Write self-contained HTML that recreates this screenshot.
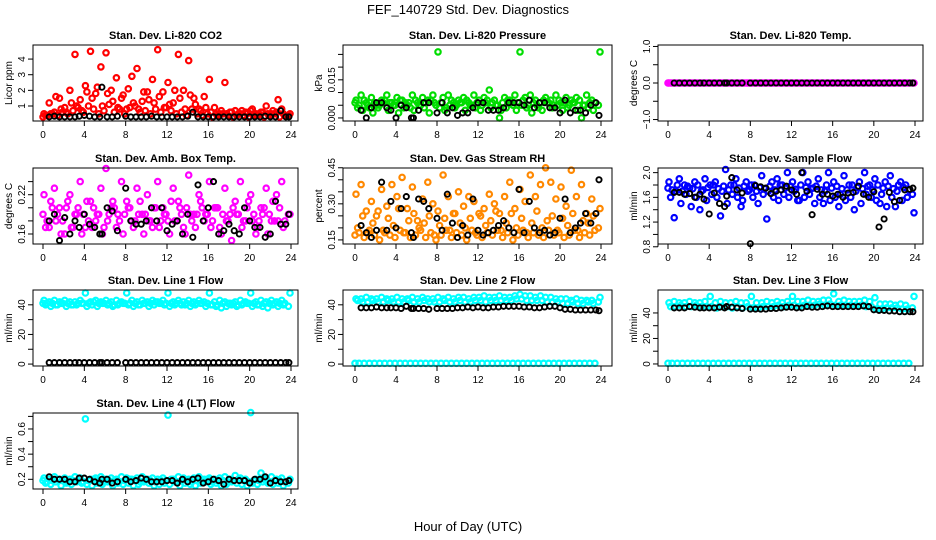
<!DOCTYPE html>
<html><head><meta charset="utf-8"><style>
html,body{margin:0;padding:0;background:#fff;}
svg{display:block;font-family:"Liberation Sans",Arial,sans-serif;}
</style></head><body>
<svg id="chart" width="936" height="540" viewBox="0 0 936 540">
<text x="468" y="14" text-anchor="middle" font-size="13">FEF_140729  Std. Dev. Diagnostics</text>
<text x="468" y="531" text-anchor="middle" font-size="13">Hour of Day (UTC)</text>
</svg>
<script>
const hoursA=[0.1,0.6,1.1,1.6,2.1,2.6,3.1,3.6,4.1,4.6,5.1,5.6,6.1,6.6,7.1,7.6,8.1,8.6,9.1,9.6,10.1,10.6,11.1,11.6,12.1,12.6,13.1,13.6,14.1,14.6,15.1,15.6,16.1,16.6,17.1,17.6,18.1,18.6,19.1,19.6,20.1,20.6,21.1,21.6,22.1,22.6,23.1,23.9];
const hoursB=[0.25,0.75,1.25,1.75,2.25,2.75,3.25,3.75,4.25,4.75,5.25,5.75,6.25,6.75,7.25,7.75,8.25,8.75,9.25,9.75,10.25,10.75,11.25,11.75,12.25,12.75,13.25,13.75,14.25,14.75,15.25,15.75,16.25,16.75,17.25,17.75,18.25,18.75,19.25,19.75,20.25,20.75,21.25,21.75,22.25,22.75,23.25,23.75];
const hoursC=[0.0,0.4,0.9,1.4,1.9,2.4,2.9,3.4,3.9,4.4,4.9,5.4,5.9,6.4,6.9,7.4,7.9,8.4,8.9,9.4,9.9,10.4,10.9,11.4,11.9,12.4,12.9,13.4,13.9,14.4,14.9,15.4,15.9,16.4,16.9,17.4,17.9,18.4,18.9,19.4,19.9,20.4,20.9,21.4,21.9,22.4,22.9,23.4];
const hoursK=[0.6,1.1,1.6,2.1,2.6,3.1,3.5,4.0,4.5,5.0,5.5,5.7,6.2,6.7,7.2,8.0,8.5,9.0,9.5,10.0,10.5,11.0,11.5,12.0,12.5,13.0,13.5,14.0,14.5,15.0,15.5,16.0,16.5,17.0,17.5,18.0,18.5,19.0,19.5,20.0,20.5,21.0,21.5,22.0,22.5,23.0,23.5,23.8];
const xTicks=[0,4,8,12,16,20,24];

const co2A=[0.5,1.2,0.6,1.5,0.9,2.0,4.3,1.4,2.3,4.5,1.8,3.5,4.4,2.0,2.8,1.5,0.8,2.9,3.4,1.3,1.9,2.7,4.6,1.9,2.5,1.2,4.3,2.0,3.9,1.5,0.8,1.6,2.7,0.9,0.5,2.5,0.6,0.7,0.5,0.6,0.7,0.5,0.6,1.0,0.5,0.6,0.8,0.5];
const co2B=[0.4,0.5,1.6,0.8,0.6,1.2,1.0,0.7,1.9,1.5,2.2,1.0,1.8,1.3,0.9,1.7,2.1,1.2,0.8,1.9,1.4,1.2,1.6,0.9,1.1,2.0,1.5,0.8,1.7,1.1,0.7,0.9,0.6,0.5,0.7,0.5,0.6,0.4,0.7,0.5,0.8,0.4,0.6,0.5,0.7,1.4,0.5,0.4];
const co2C=[0.3,0.4,0.5,0.4,0.6,0.5,0.7,0.9,0.6,1.0,0.8,0.5,0.7,1.1,0.6,0.8,0.5,0.9,1.0,0.6,0.7,0.5,0.8,0.6,0.9,0.7,0.5,0.6,0.4,0.8,0.5,0.4,0.5,0.3,0.4,0.5,0.4,0.3,0.5,0.4,0.3,0.4,0.5,0.3,0.4,0.5,0.3,0.4];
const co2K=[0.3,0.35,0.3,0.3,0.3,0.3,0.35,0.4,0.35,0.3,0.3,2.2,0.3,0.3,0.35,0.35,0.3,0.3,0.3,0.3,0.35,0.3,0.3,0.3,0.3,0.3,0.3,0.35,0.6,0.3,0.3,0.3,0.3,0.3,0.3,0.3,0.3,0.3,0.3,0.3,0.3,0.3,0.35,0.3,0.3,0.7,0.3,0.3];

const presA=[0.007,0.009,0.006,0.008,0.005,0.007,0.009,0.006,0.008,0.007,0.005,0.009,0.006,0.008,0.007,0.009,0.026,0.008,0.009,0.006,0.007,0.008,0.006,0.009,0.007,0.008,0.011,0.007,0.000,0.008,0.007,0.009,0.026,0.008,0.009,0.007,0.006,0.008,0.007,0.009,0.006,0.008,0.007,0.008,0.000,0.009,0.007,0.026];
const presB=[0.004,0.003,0.005,0.002,0.004,0.006,0.003,0.005,0.002,0.004,0.006,0.003,0.005,0.004,0.002,0.006,0.004,0.003,0.005,0.004,0.006,0.003,0.005,0.004,0.003,0.006,0.004,0.005,0.003,0.004,0.006,0.003,0.005,0.004,0.002,0.005,0.003,0.006,0.004,0.005,0.003,0.004,0.006,0.003,0.005,0.004,0.003,0.005];
const presC=[0.006,0.005,0.007,0.004,0.006,0.005,0.007,0.006,0.005,0.007,0.006,0.004,0.007,0.005,0.006,0.007,0.005,0.006,0.004,0.007,0.005,0.006,0.007,0.005,0.006,0.005,0.007,0.006,0.005,0.006,0.007,0.005,0.006,0.007,0.005,0.006,0.004,0.007,0.006,0.005,0.007,0.006,0.005,0.006,0.007,0.005,0.006,0.006];
const presK=[0.003,0.000,0.004,0.006,0.006,0.004,0.003,0.000,0.005,0.004,0.000,0.000,0.003,0.006,0.006,0.002,0.006,0.002,0.004,0.001,0.002,0.002,0.004,0.006,0.006,0.003,0.003,0.003,0.004,0.006,0.006,0.006,0.005,0.007,0.004,0.006,0.006,0.004,0.004,0.002,0.007,0.002,0.003,0.003,0.002,0.005,0.006,0.001];

const tempA=[0,0,0,0,0,0,0,0,0,0,0,0,0,0,0,0,0,0,0,0,0,0,0,0,0,0,0,0,0,0,0,0,0,0,0,0,0,0,0,0,0,0,0,0,0,0,0,0];
const tempB=[0,0,0,0,0,0,0,0,0,0,0,0,0,0,0,0,0,0,0,0,0,0,0,0,0,0,0,0,0,0,0,0,0,0,0,0,0,0,0,0,0,0,0,0,0,0,0,0];
const tempC=[0,0,0,0,0,0,0,0,0,0,0,0,0,0,0,0,0,0,0,0,0,0,0,0,0,0,0,0,0,0,0,0,0,0,0,0,0,0,0,0,0,0,0,0,0,0,0,0];
const tempK=[0,0,0,0,0,0,0,0,0,0,0,0,0,0,0,0,0,0,0,0,0,0,0,0,0,0,0,0,0,0,0,0,0,0,0,0,0,0,0,0,0,0,0,0,0,0,0,0];

const boxA=[0.22,0.17,0.23,0.20,0.16,0.22,0.19,0.24,0.17,0.21,0.18,0.23,0.26,0.20,0.17,0.24,0.21,0.18,0.23,0.19,0.22,0.17,0.24,0.20,0.18,0.23,0.21,0.17,0.25,0.19,0.22,0.18,0.24,0.20,0.17,0.23,0.19,0.21,0.24,0.18,0.22,0.16,0.20,0.23,0.18,0.22,0.24,0.19];
const boxB=[0.17,0.21,0.18,0.16,0.20,0.17,0.19,0.16,0.21,0.17,0.19,0.16,0.18,0.21,0.19,0.16,0.20,0.17,0.19,0.16,0.18,0.20,0.17,0.19,0.16,0.18,0.20,0.16,0.19,0.17,0.21,0.19,0.17,0.20,0.16,0.18,0.15,0.19,0.17,0.20,0.18,0.17,0.19,0.16,0.21,0.18,0.17,0.19];
const boxC=[0.19,0.18,0.20,0.19,0.18,0.21,0.17,0.20,0.19,0.18,0.20,0.19,0.17,0.19,0.20,0.18,0.19,0.20,0.18,0.21,0.19,0.18,0.20,0.18,0.19,0.21,0.18,0.19,0.20,0.18,0.19,0.20,0.19,0.18,0.20,0.19,0.18,0.20,0.19,0.18,0.21,0.19,0.18,0.20,0.19,0.18,0.20,0.18];
const boxK=[0.18,0.19,0.15,0.185,0.16,0.18,0.17,0.19,0.175,0.17,0.16,0.16,0.20,0.195,0.165,0.23,0.18,0.175,0.175,0.18,0.20,0.18,0.20,0.165,0.175,0.18,0.16,0.19,0.155,0.235,0.18,0.20,0.24,0.16,0.165,0.175,0.165,0.16,0.20,0.18,0.17,0.17,0.155,0.16,0.21,0.175,0.175,0.19];

const rhA=[0.34,0.38,0.27,0.31,0.25,0.36,0.29,0.38,0.33,0.41,0.28,0.37,0.23,0.32,0.39,0.30,0.27,0.42,0.33,0.26,0.35,0.29,0.33,0.31,0.26,0.28,0.34,0.30,0.26,0.33,0.39,0.28,0.36,0.31,0.42,0.33,0.38,0.45,0.39,0.32,0.37,0.29,0.44,0.33,0.38,0.26,0.32,0.28];
const rhB=[0.20,0.25,0.18,0.22,0.27,0.19,0.24,0.21,0.28,0.18,0.23,0.26,0.20,0.22,0.25,0.17,0.21,0.24,0.19,0.26,0.22,0.20,0.24,0.18,0.25,0.21,0.23,0.27,0.19,0.22,0.26,0.20,0.24,0.18,0.22,0.27,0.20,0.23,0.25,0.19,0.24,0.21,0.26,0.19,0.23,0.22,0.25,0.20];
const rhC=[0.17,0.18,0.16,0.19,0.17,0.15,0.18,0.17,0.16,0.19,0.18,0.16,0.17,0.19,0.16,0.18,0.15,0.17,0.19,0.16,0.18,0.17,0.15,0.19,0.17,0.16,0.18,0.17,0.19,0.16,0.18,0.15,0.17,0.19,0.16,0.18,0.17,0.16,0.19,0.17,0.18,0.16,0.17,0.19,0.16,0.18,0.17,0.19];
const rhK=[0.21,0.18,0.16,0.19,0.39,0.19,0.31,0.20,0.28,0.33,0.18,0.16,0.32,0.31,0.28,0.24,0.19,0.34,0.22,0.16,0.21,0.17,0.32,0.19,0.17,0.18,0.19,0.21,0.23,0.20,0.18,0.36,0.18,0.31,0.20,0.18,0.19,0.17,0.18,0.24,0.32,0.18,0.20,0.22,0.26,0.22,0.26,0.40];

const flowA=[1.85,1.27,1.9,1.8,1.75,1.85,1.4,1.9,1.8,1.85,1.3,2.05,1.8,1.9,1.45,1.85,1.8,1.7,1.95,1.25,1.85,1.9,1.8,2.0,1.85,1.55,2.0,1.85,1.75,1.9,1.5,2.0,1.85,1.45,1.95,1.8,1.4,1.85,2.0,1.8,1.9,1.5,1.85,1.95,1.45,1.85,1.8,1.35];
const flowB=[1.6,1.7,1.5,1.65,1.45,1.6,1.7,1.55,1.65,1.6,1.7,1.5,1.65,1.6,1.55,1.7,1.6,1.5,1.65,1.7,1.6,1.55,1.65,1.6,1.7,1.55,1.6,1.65,1.5,1.6,1.7,1.55,1.6,1.65,1.55,1.6,1.7,1.5,1.65,1.6,1.55,1.65,1.45,1.6,1.7,1.55,1.6,1.65];
const flowC=[1.75,1.72,1.8,1.7,1.78,1.74,1.8,1.72,1.76,1.8,1.74,1.78,1.72,1.8,1.75,1.78,1.72,1.8,1.76,1.74,1.78,1.72,1.8,1.75,1.78,1.73,1.8,1.76,1.74,1.78,1.72,1.8,1.75,1.78,1.74,1.72,1.8,1.76,1.74,1.78,1.72,1.8,1.75,1.78,1.74,1.8,1.76,1.72];
const flowK=[1.68,1.68,1.65,1.66,1.6,1.65,1.57,1.33,1.67,1.5,1.45,1.62,1.92,1.72,1.67,0.85,1.79,1.77,1.75,1.66,1.7,1.72,1.78,1.72,1.65,2.0,1.7,1.32,1.73,1.65,1.65,1.62,1.65,1.6,1.67,1.68,1.78,1.65,1.6,1.69,1.12,1.25,1.68,1.53,1.55,1.72,1.73,1.75];

const l1A=[43,42,43,42,43,42,42,43,48,42,43,42,43,42,43,42,48,43,42,43,42,43,42,43,48,42,43,42,43,42,43,42,48,42,43,42,41,42,43,42,48,42,43,42,43,42,43,48];
const l1B=[40,39,40,41,39,40,40,41,39,40,39,41,40,39,40,41,40,39,40,41,39,40,41,40,39,40,41,40,39,40,41,39,40,39,38,39,40,39,40,41,39,40,39,38,40,39,40,39];
const l1C=[41,41,41,40,41,41,40,41,41,41,42,41,41,41,40,41,41,41,41,40,41,41,42,41,41,41,41,40,41,41,41,41,41,40,40,41,41,41,40,41,41,41,40,41,41,41,41,41];
const l1K=[1,1,1,1,1,1,1,1,1,1,1,1,1,1,1,1,1,1,1,1,1,1,1,1,1,1,1,1,1,1,1,1,1,1,1,1,1,1,1,1,1,1,1,1,1,1,1,1];

const l2A=[44,44,45,44,44,45,44,44,45,44,44,45,44,45,44,44,45,44,45,44,45,45,44,45,45,46,45,45,46,45,45,46,47,46,46,45,46,45,45,44,44,44,43,44,43,43,43,45];
const l2B=[43,42,42,43,42,42,43,42,42,42,43,42,42,43,42,42,42,43,42,42,43,42,42,43,43,42,43,43,43,43,43,44,44,43,43,43,43,42,42,42,41,41,42,41,41,42,41,42];
const l2C=[0.5,0.5,0.5,0.5,0.5,0.5,0.5,0.5,0.5,0.5,0.5,0.5,0.5,0.5,0.5,0.5,0.5,0.5,0.5,0.5,0.5,0.5,0.5,0.5,0.5,0.5,0.5,0.5,0.5,0.5,0.5,0.5,0.5,0.5,0.5,0.5,0.5,0.5,0.5,0.5,0.5,0.5,0.5,0.5,0.5,0.5,0.5,0.5];
const l2K=[38,38,38,38.5,38,38,38,38,37.5,39,37.5,37.5,37.5,37.5,37,37.5,37.5,37.5,37.5,38,38,38.5,38,38.5,38,38,38.5,38.5,39,39,39,39,38.5,38.5,38,38,38.5,39,39,38,37,37,36.5,36.5,36.5,36.5,36.5,36];

const l3A=[48,49,48,48,49,48,48,49,53,48,49,48,48,49,48,48,53,48,48,49,48,49,48,49,53,49,49,50,49,49,50,50,55,49,50,49,49,49,50,49,52,47,47,47,46,47,46,53];
const l3B=[45,45,46,45,45,46,45,45,45,44,45,45,44,45,44,45,44,44,45,45,45,46,45,46,46,45,46,46,46,47,46,47,46,46,46,46,46,46,45,45,43,43,44,44,44,43,43,44];
const l3C=[0.5,0.5,0.5,0.5,0.5,0.5,0.5,0.5,0.5,0.5,0.5,0.5,0.5,0.5,0.5,0.5,0.5,0.5,0.5,0.5,0.5,0.5,0.5,0.5,0.5,0.5,0.5,0.5,0.5,0.5,0.5,0.5,0.5,0.5,0.5,0.5,0.5,0.5,0.5,0.5,0.5,0.5,0.5,0.5,0.5,0.5,0.5,0.5];
const l3K=[44,44,44,45,44.5,44,44,44,44,44.5,44,45,44.5,44,43.5,43,43,43,43,43.5,43.5,44,44.5,44.5,44,44,45,44.5,44.5,45,45.5,45,45,45,45,45,45,45.5,45,42.5,42,42,41.5,41.5,41,41,41,41];

const l4A=[0.21,0.2,0.22,0.2,0.21,0.2,0.22,0.21,0.68,0.2,0.21,0.22,0.2,0.21,0.2,0.22,0.21,0.2,0.21,0.22,0.2,0.21,0.2,0.21,0.71,0.2,0.22,0.21,0.2,0.21,0.22,0.2,0.21,0.2,0.21,0.22,0.2,0.23,0.21,0.2,0.73,0.2,0.25,0.21,0.22,0.2,0.21,0.2];
const l4B=[0.17,0.16,0.18,0.15,0.17,0.16,0.18,0.17,0.16,0.15,0.17,0.16,0.18,0.15,0.17,0.16,0.17,0.15,0.16,0.18,0.17,0.15,0.16,0.17,0.16,0.18,0.15,0.17,0.16,0.15,0.17,0.18,0.16,0.17,0.15,0.16,0.18,0.17,0.16,0.15,0.17,0.16,0.18,0.17,0.16,0.17,0.15,0.17];
const l4C=[0.19,0.18,0.19,0.2,0.19,0.18,0.19,0.19,0.18,0.19,0.2,0.19,0.18,0.19,0.19,0.18,0.19,0.2,0.19,0.18,0.19,0.19,0.18,0.19,0.19,0.2,0.18,0.19,0.19,0.18,0.19,0.19,0.2,0.18,0.19,0.19,0.18,0.19,0.2,0.19,0.18,0.19,0.19,0.2,0.18,0.19,0.19,0.18];
const l4K=[0.22,0.2,0.2,0.2,0.18,0.18,0.21,0.21,0.2,0.18,0.17,0.2,0.2,0.17,0.18,0.2,0.18,0.19,0.21,0.2,0.18,0.18,0.18,0.19,0.19,0.17,0.2,0.18,0.2,0.21,0.17,0.18,0.2,0.19,0.16,0.2,0.19,0.19,0.19,0.17,0.2,0.2,0.22,0.17,0.19,0.18,0.18,0.19];

const yTicks1=[1,2,3,4], yLab1=["1","2","3","4"];
const yTicks2=[0,0.005,0.01,0.015,0.02,0.025], yLab2=["0.000","","","0.015","",""];
const yTicks3=[-1,-0.5,0,0.5,1], yLab3=["\u22121.0","","0.0","","1.0"];
const yTicks4=[0.16,0.18,0.2,0.22,0.24], yLab4=["0.16","","","0.22",""];
const yTicks5=[0.15,0.2,0.25,0.3,0.35,0.4,0.45], yLab5=["0.15","","","0.30","","","0.45"];
const yTicks6=[0.8,1.0,1.2,1.4,1.6,1.8,2.0], yLab6=["0.8","","1.2","","1.6","","2.0"];
const yTicksL=[0,10,20,30,40], yLabL=["0","","20","","40"];
const yTicks10=[0.2,0.3,0.4,0.5,0.6,0.7], yLab10=["0.2","","0.4","","0.6",""];

const NS="http://www.w3.org/2000/svg";
const svg=document.getElementById('chart');
const colL=[33,343,658], colR=[298,612,923], col0=[43,355,668], col24=[291,601,915];
const rowT=[45,168,290,413], H=76;

const panels=[
 {slug:'co2',title:'Stan. Dev. Li-820 CO2',ylab:'Licor ppm',c:0,r:0,ymin:0.04,ymax:4.9,col:'#ff0000',s:[co2A,co2B,co2C],k:co2K,t:yTicks1,tl:yLab1},
 {slug:'pressure',title:'Stan. Dev. Li-820 Pressure',ylab:'kPa',c:1,r:0,ymin:-0.0012,ymax:0.0287,col:'#00dd00',s:[presA,presB,presC],k:presK,t:yTicks2,tl:yLab2},
 {slug:'li820-temp',title:'Stan. Dev. Li-820 Temp.',ylab:'degrees C',c:2,r:0,ymin:-1.04,ymax:1.04,col:'#ff00ff',s:[tempA,tempB,tempC],k:tempK,t:yTicks3,tl:yLab3},
 {slug:'box-temp',title:'Stan. Dev. Amb. Box Temp.',ylab:'degrees C',c:0,r:1,ymin:0.1447,ymax:0.2608,col:'#ff00ff',s:[boxA,boxB,boxC],k:boxK,t:yTicks4,tl:yLab4},
 {slug:'gas-rh',title:'Stan. Dev. Gas Stream RH',ylab:'percent',c:1,r:1,ymin:0.133,ymax:0.449,col:'#ff8800',s:[rhA,rhB,rhC],k:rhK,t:yTicks5,tl:yLab5},
 {slug:'sample-flow',title:'Stan. Dev. Sample Flow',ylab:'ml/min',c:2,r:1,ymin:0.845,ymax:2.075,col:'#0000ff',s:[flowA,flowB,flowC],k:flowK,t:yTicks6,tl:yLab6},
 {slug:'line1',title:'Stan. Dev. Line 1 Flow',ylab:'ml/min',c:0,r:2,ymin:-1.3,ymax:50,col:'#00ffff',s:[l1A,l1B,l1C],k:l1K,t:yTicksL,tl:yLabL},
 {slug:'line2',title:'Stan. Dev. Line 2 Flow',ylab:'ml/min',c:1,r:2,ymin:-1.3,ymax:50,col:'#00ffff',s:[l2A,l2B,l2C],k:l2K,t:yTicksL,tl:yLabL},
 {slug:'line3',title:'Stan. Dev. Line 3 Flow',ylab:'ml/min',c:2,r:2,ymin:-1.6,ymax:58,col:'#00ffff',s:[l3A,l3B,l3C],k:l3K,t:yTicksL,tl:yLabL},
 {slug:'line4',title:'Stan. Dev. Line 4 (LT) Flow',ylab:'ml/min',c:0,r:3,ymin:0.123,ymax:0.727,col:'#00ffff',s:[l4A,l4B,l4C],k:l4K,t:yTicks10,tl:yLab10}
];
const hs=[hoursA,hoursB,hoursC];

function mk(tag,attrs,parent){const e=document.createElementNS(NS,tag);for(const k in attrs)e.setAttribute(k,attrs[k]);(parent||svg).appendChild(e);return e;}

panels.forEach(p=>{
 const L=colL[p.c],R=colR[p.c],T=rowT[p.r],B=T+H;
 const xs=v=>col0[p.c]+(col24[p.c]-col0[p.c])*v/24;
 const ys=v=>B-(v-p.ymin)/(p.ymax-p.ymin)*H;
 const g=mk('g',{});
 
 
 const tt=mk('text',{x:(L+R)/2,y:T-6,'text-anchor':'middle','font-size':'11','font-weight':'bold'},g);
 tt.textContent=p.title;
 
 
 const yl=mk('text',{transform:`translate(${L-21},${(T+B)/2}) rotate(-90)`,'text-anchor':'middle','font-size':'10'},g);
 yl.textContent=p.ylab;
 
 
 const pg=mk('g',{fill:'none','stroke-width':'2.2'},g);
 
 
 p.s.forEach((arr,si)=>{
  arr.forEach((v,i)=>{
   const c=mk('circle',{cx:xs(hs[si][i]).toFixed(1),cy:ys(v).toFixed(1),r:2.7,stroke:p.col},pg);
   
   
  });
 });
 p.k.forEach((v,i)=>{
  const c=mk('circle',{cx:xs(hoursK[i]).toFixed(1),cy:ys(v).toFixed(1),r:2.6,stroke:'#000','stroke-width':'1.9'},pg);
  
  
 });
 const bx=mk('rect',{x:L,y:T,width:R-L,height:H,fill:'none',stroke:'#000','stroke-width':'1'},g);
 
 
 xTicks.forEach(v=>{
  const x=xs(v);
  const tk=mk('line',{x1:x,x2:x,y1:B,y2:B+5,stroke:'#000'},g);
  
  
  const tl=mk('text',{x:x,y:B+17,'text-anchor':'middle','font-size':'10'},g);
  tl.textContent=String(v);
  
  
 });
 const xa=mk('line',{x1:xs(0),x2:xs(24),y1:B,y2:B,stroke:'#000'},g);
 
 
 const y0=ys(p.t[0]),y1=ys(p.t[p.t.length-1]);
 const ya=mk('line',{x1:L,x2:L,y1:y0,y2:y1,stroke:'#000'},g);
 
 
 p.t.forEach((v,i)=>{
  const y=ys(v);
  const tk=mk('line',{x1:L-5,x2:L,y1:y,y2:y,stroke:'#000'},g);
  
  
  if(p.tl[i]){
   const tl=mk('text',{transform:`translate(${L-8},${y}) rotate(-90)`,'text-anchor':'middle','font-size':'10'},g);
   tl.textContent=p.tl[i];
   
   
  }
 });
});
</script>
</body></html>
